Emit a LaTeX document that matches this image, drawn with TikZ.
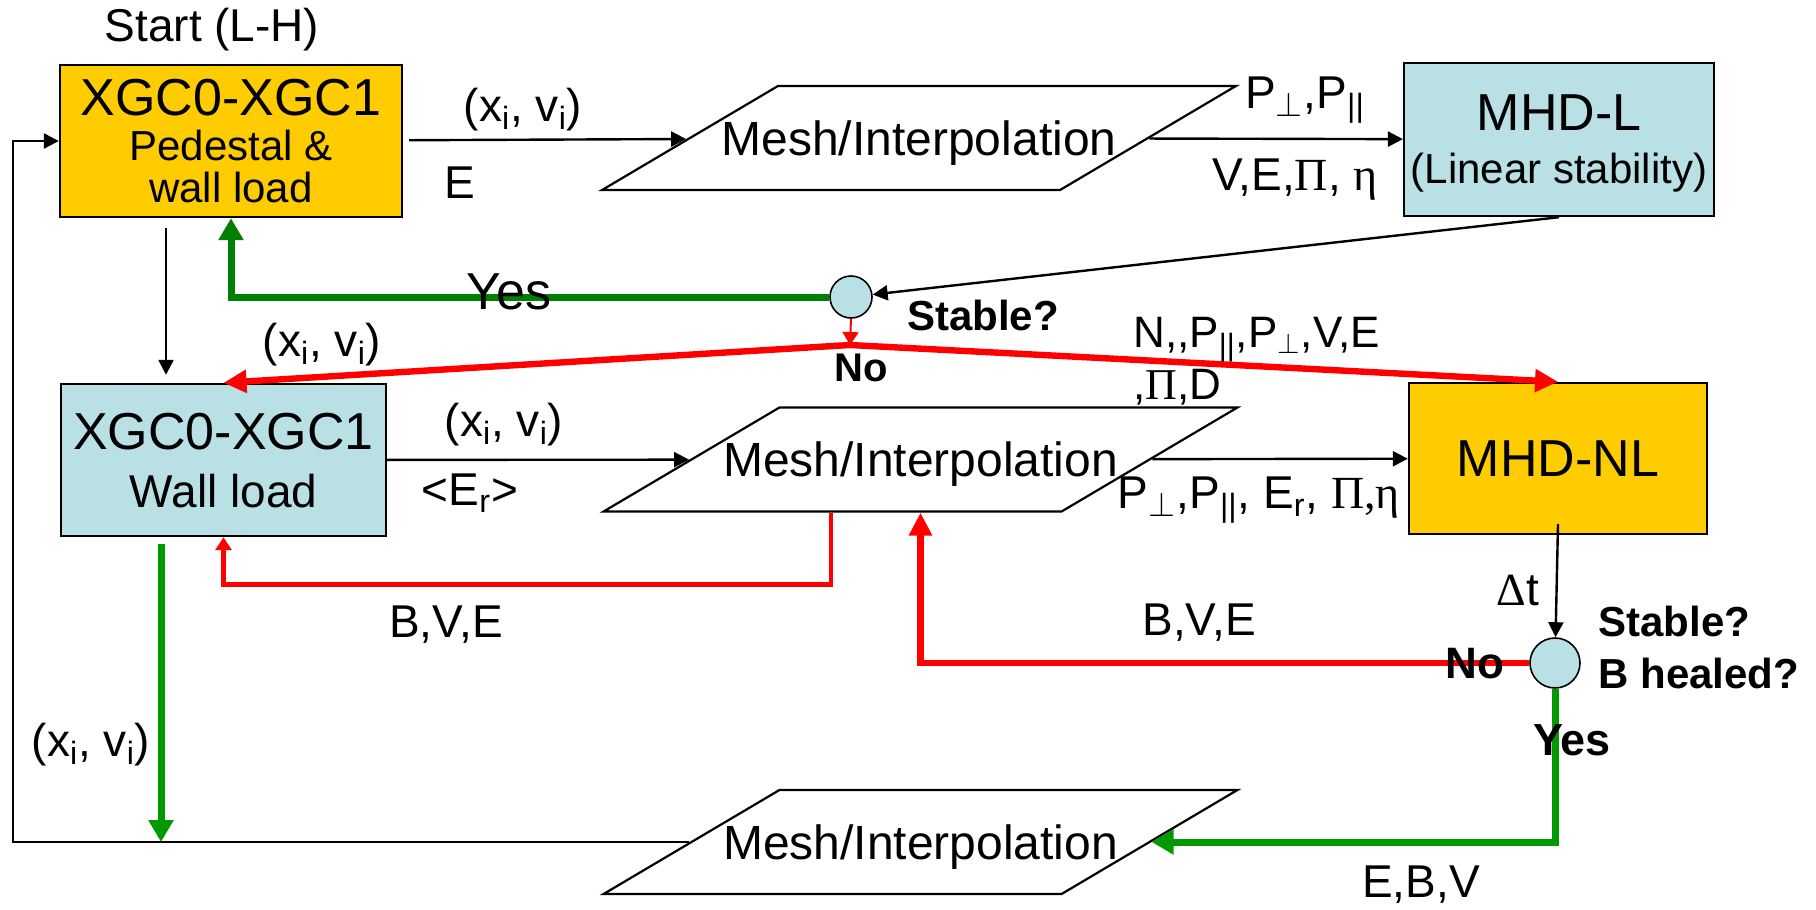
\documentclass[tikz,border=0pt]{standalone}
\usepackage{fontspec}
\setmainfont{Liberation Sans}
\newfontfamily\grk{Liberation Serif}
\usetikzlibrary{arrows.meta,shapes.geometric,calc}
\definecolor{xgcgold}{RGB}{255,204,0}
\definecolor{mhdblue}{RGB}{185,224,228}
\definecolor{yesdark}{RGB}{0,128,0}
\definecolor{yesgreen}{RGB}{0,153,0}
\newcommand\sub[1]{\textsubscript{#1}}
\newcommand\xv{(x\sub{i}, v\sub{i})}
\newcommand\perpsub{\sub{$\perp$}}
\newcommand\parsub{\sub{||}}

\begin{document}
\begin{tikzpicture}[x=0.5pt,y=-0.5pt,
  box/.style={draw,line width=1.2pt,align=center,text depth=0pt,minimum height=76pt},
  mesh/.style={trapezium,draw,line width=1.1pt,trapezium left angle=30.6,trapezium right angle=149.4,
    text height=17pt,text depth=0pt,inner xsep=-28.2pt,inner ysep=17.5pt,font=\fontsize{24}{24}\selectfont},
  dot/.style={circle,draw,fill=mhdblue,line width=0.8pt,inner sep=0pt},
  lbl/.style={font=\fontsize{23}{26}\selectfont,inner sep=0pt},
  ask/.style={font=\bfseries\fontsize{21}{25}\selectfont,inner sep=0pt},
  flow/.style={-{Triangle[length=7.5pt,width=7.5pt]},line width=1.2pt},
  nothin/.style={-{Triangle[length=6.5pt,width=8pt]},red,line width=2.2pt},
  nothick/.style={-{Triangle[length=11.5pt,width=11pt]},red,line width=3.2pt},
  yesthick/.style={-{Triangle[length=11pt,width=12pt]},line width=3.5pt}]
\useasboundingbox (0,0) rectangle (1816,910);

\node[box,fill=xgcgold,minimum width=171pt,font=\fontsize{21}{21}\selectfont] (xa) at (231,141)
  {\fontsize{26}{26}\selectfont XGC0-XGC1\\[1.5pt]\fontsize{21}{21}\selectfont Pedestal \&\\\fontsize{21}{21}\selectfont wall load};
\node[box,fill=mhdblue,minimum width=162.5pt,font=\fontsize{23}{24}\selectfont] (xb) at (223.5,460)
  {\fontsize{26}{26}\selectfont XGC0-XGC1\\[5pt]\fontsize{23}{24}\selectfont Wall load};
\node[box,fill=mhdblue,minimum width=151pt,minimum height=76.5pt,font=\fontsize{21}{21}\selectfont] (ml) at (1559,139.5)
  {\fontsize{26}{26}\selectfont MHD-L\\[5.5pt]\fontsize{21}{21}\selectfont (Linear stability)};
\node[box,fill=xgcgold,minimum width=149pt,minimum height=75.5pt,font=\fontsize{26}{26}\selectfont] (mn) at (1558,458.5) {MHD-NL};

\node[mesh] (ma) at (919,138) {Mesh/Interpolation};
\node[mesh] (mb) at (920.5,459.5) {Mesh/Interpolation};
\node[mesh] (mc) at (920.5,842) {Mesh/Interpolation};

\node[dot,minimum size=21pt] (sa) at (851,297) {};
\node[dot,minimum size=25pt] (sb) at (1555,663) {};

\coordinate (fk) at (850,345);
\coordinate (dn) at (166,0);
\coordinate (dg) at (161,0);
\coordinate (lp) at (13,0);

\draw[flow,shorten <=3pt] (xa) -- (ma);
\draw[flow] (ma) -- (ml);
\draw[flow] (ml.south) -- (sa);
\draw[yesthick,yesdark] (sa.west) -| (xa.south);
\draw[flow,shorten <=5pt,shorten >=4pt] (xa.south -| dn) -- (xb.north -| dn);
\draw[nothin,line width=1pt] (sa.south) -- (fk);
\draw[nothick] (fk) -- (xb.north);
\draw[nothick] (fk) -- (mn.north);
\draw[flow] (xb) -- (mb);
\draw[flow] (mb) -- (mn);
\draw[nothin] ($(mb.bottom left corner)!.5!(mb.bottom right corner)$) -- ++(0,72) -| (xb.south);
\draw[flow] ([yshift=5.5pt]mn.south) -- (sb);
\draw[nothick] (sb.west) -| (mb.bottom left corner -| mb.center);
\draw[yesthick,yesgreen] (sb.south) |- (mc);
\draw[yesthick,yesgreen,shorten <=3.5pt] (xb.south -| dg) -- (mc.left side -| dg);
\draw[flow] (mc.left side) -- (mc.left side -| lp) |- (xa.west);

\node[lbl] (st) at (212,30) {Start (L-H)};
\node[lbl] (lxa) at (523,110) {\xv};
\node[lbl] (le) at (460,183) {E};
\node[lbl] (lpp) at (1305,100) {P\perpsub,P\parsub};
\node[lbl] (lve) at (1295,180) {V,E,{\grk Π}, {\grk η}};
\node[lbl,font=\fontsize{26}{26}\selectfont] (ya) at (509,292) {Yes};
\node[ask] (qa) at (983,315) {Stable?};
\node[ask,font=\bfseries\fontsize{20}{24}\selectfont] (na) at (861,368) {No};
\node[lbl] (lxb) at (322,345) {\xv};
\node[lbl,font=\fontsize{22}{24}\selectfont,align=left,anchor=north west] (lnp) at (1133,317)
  {N,\kern0pt,P\parsub,P\perpsub,V,E\\[2pt],{\grk Π},D};
\node[lbl] (lxc) at (504,425) {\xv};
\node[lbl] (ler) at (470,493) {<E\sub{r}>};
\node[lbl] (lpe) at (1259,500) {P\perpsub,P\parsub, E\sub{r}, {\grk Π,η}};
\node[lbl] (lba) at (446,625) {B,V,E};
\node[lbl] (lbb) at (1199,623) {B,V,E};
\node[lbl] (ldt) at (1518,590) {{\grk Δ}t};
\node[ask,anchor=west] (qb) at (1598,621) {Stable?};
\node[ask,anchor=west] (qc) at (1598,673) {B healed?};
\node[ask,font=\bfseries\fontsize{22}{24}\selectfont] (nb) at (1475,664) {No};
\node[ask,font=\bfseries\fontsize{22.5}{24}\selectfont] (yb) at (1572,740) {Yes};
\node[lbl] (lxd) at (91,745) {\xv};
\node[lbl] (leb) at (1421,885) {E,B,V};
\end{tikzpicture}
\end{document}
